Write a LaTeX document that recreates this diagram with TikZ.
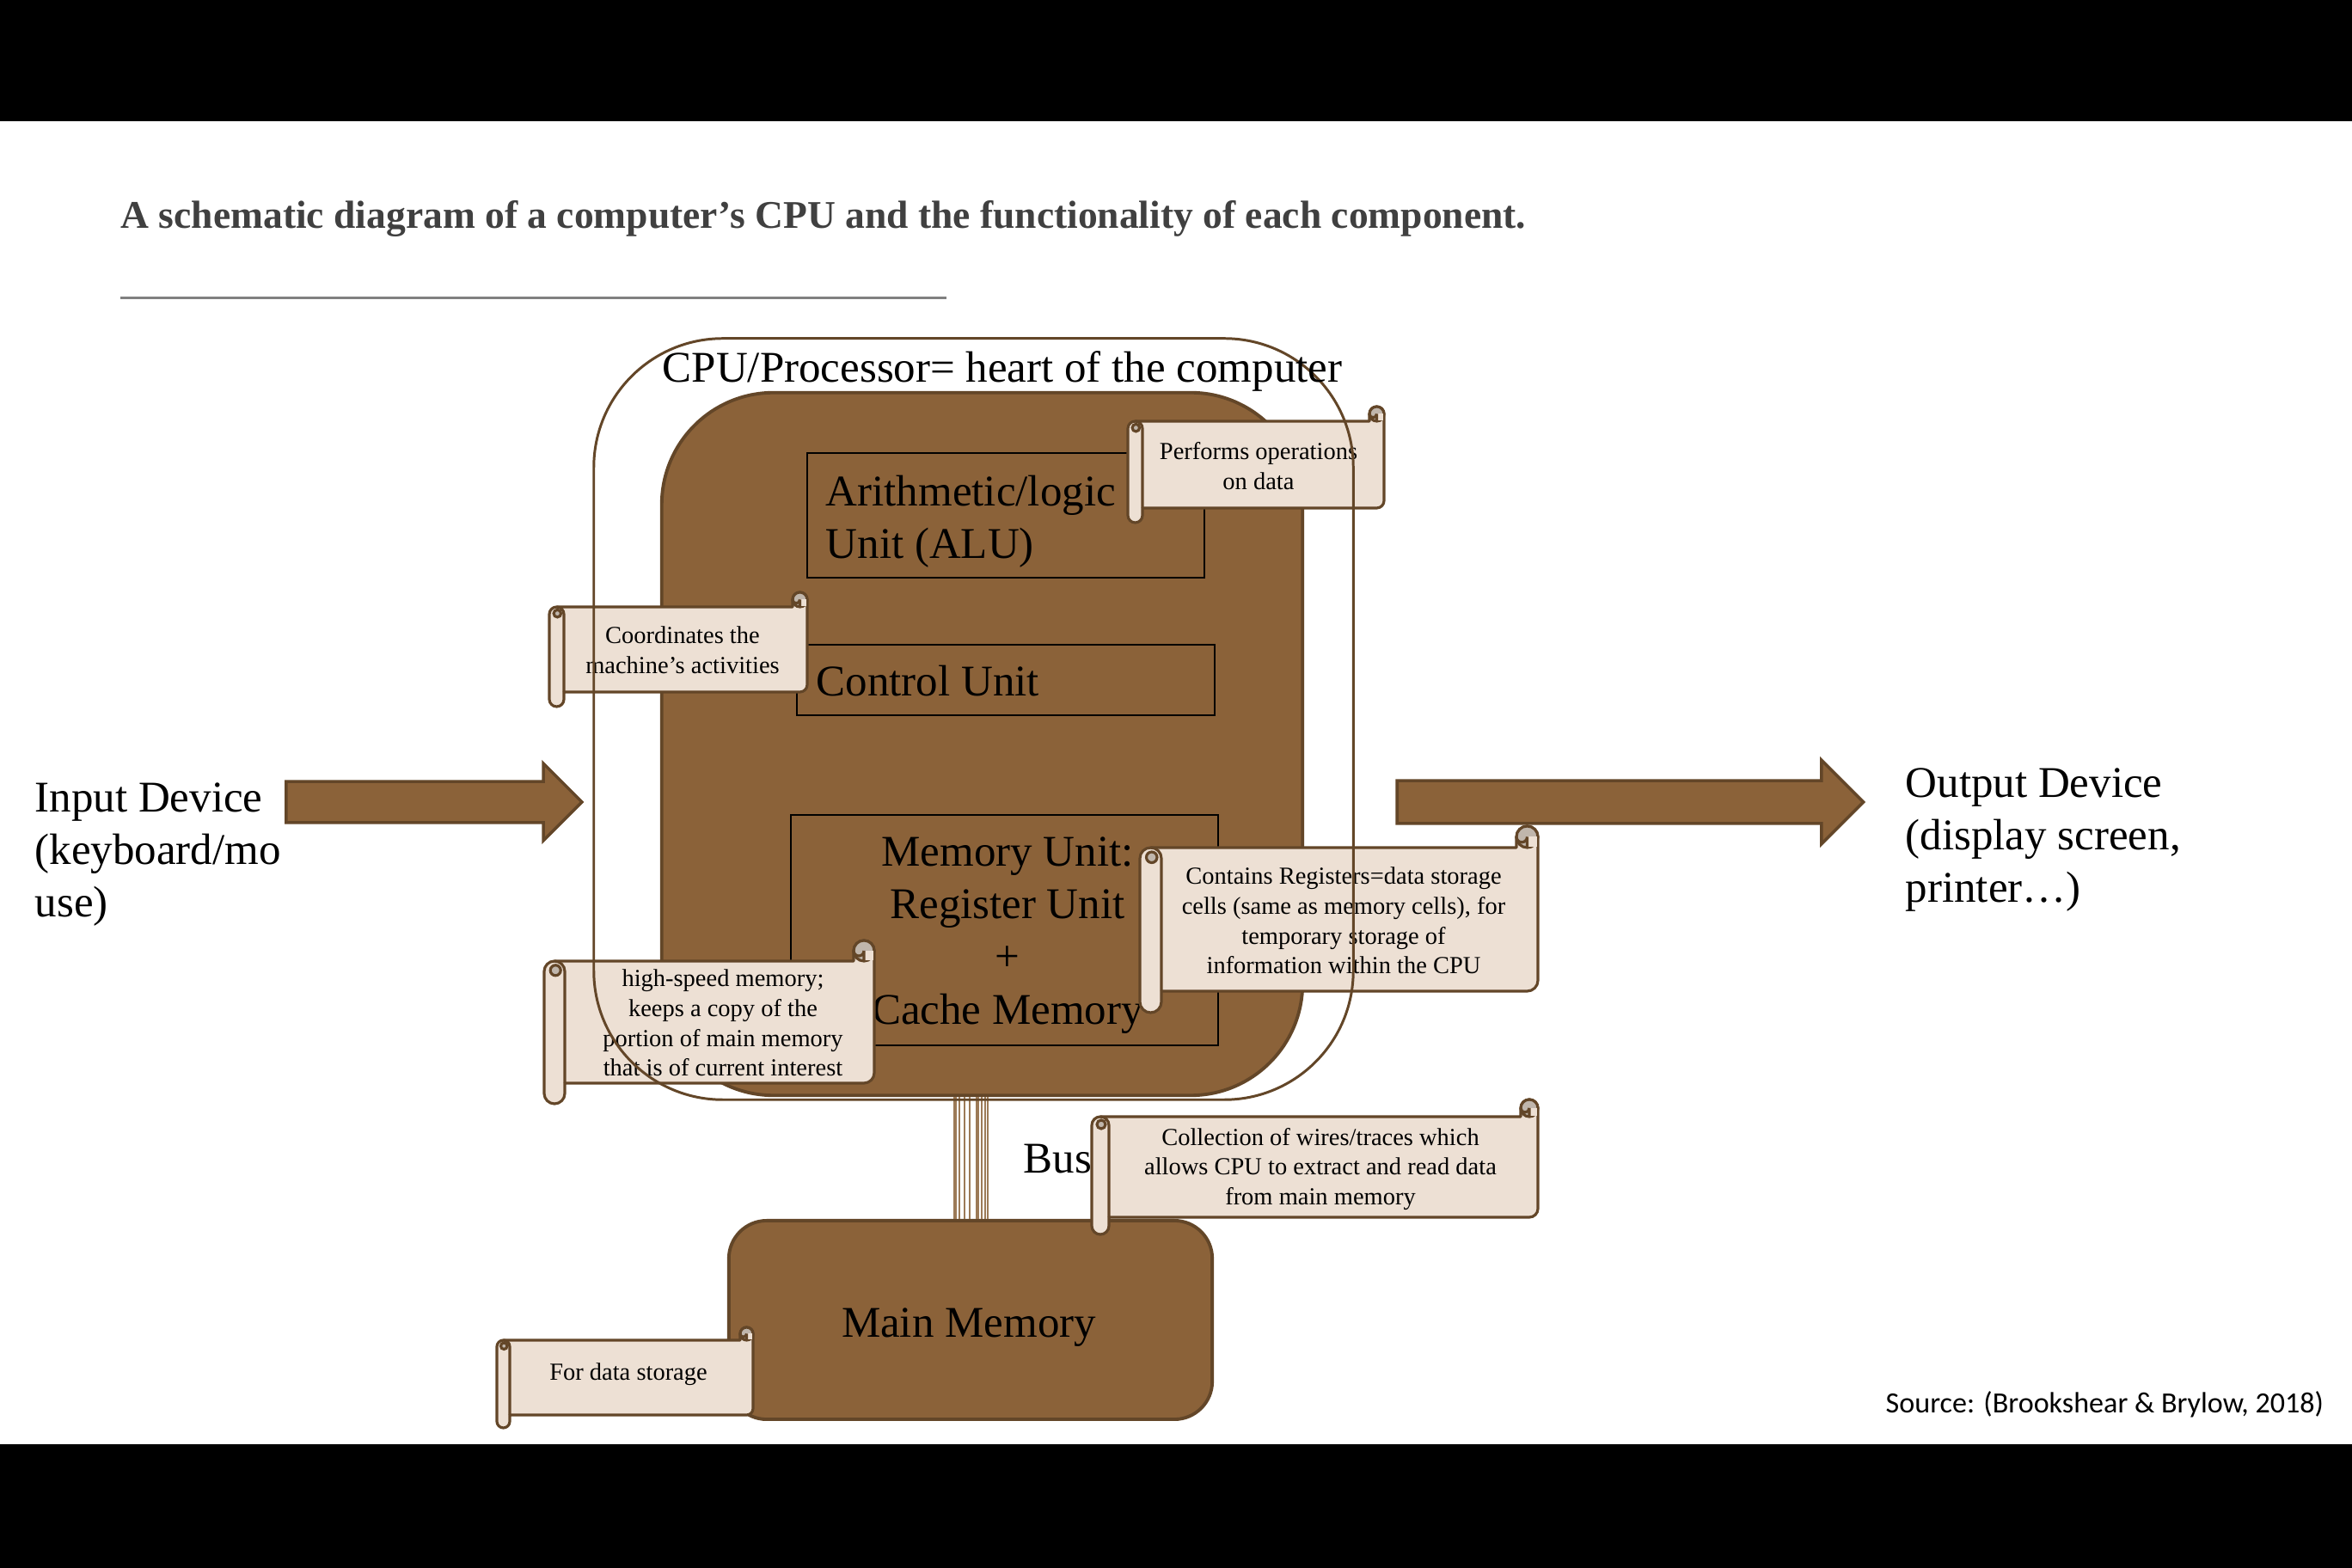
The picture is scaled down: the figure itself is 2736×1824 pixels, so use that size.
\documentclass[tikz,border=0pt]{standalone}
\usepackage{fontspec}
\setmainfont{Liberation Serif}
\newfontfamily\srcfont{Carlito}
\usetikzlibrary{positioning,shapes.arrows}

\definecolor{cpufill}{RGB}{139,98,57}
\definecolor{cpuline}{RGB}{99,70,40}
\definecolor{notefill}{RGB}{237,224,212}
\definecolor{notecurl}{RGB}{192,182,172}
\definecolor{titlegray}{RGB}{64,64,64}

% horizontal scroll: left, top, right, bottom, roll size
\newcommand{\scrollnote}[5]{%
  \pgfmathsetmacro{\sd}{#5}\pgfmathsetmacro{\sh}{#5/2}%
  \path[notebody] (#1,#2-1.5*\sd) arc[start angle=180, end angle=90, radius=\sh]
    -- (#3-\sd,#2-\sd) -- (#3-\sd,#2-\sh) arc[start angle=180, end angle=0, radius=\sh]
    -- (#3,#4+1.5*\sd) arc[start angle=0, end angle=-90, radius=\sh]
    -- (#1+\sd,#4+\sd) -- (#1+\sd,#4+\sh) arc[start angle=0, end angle=-180, radius=\sh]
    -- cycle;
  % left roll
  \draw[noteline] (#1+\sh,#2-\sd) arc[start angle=90, end angle=0, radius=\sh]
    -- (#1+\sd,#4+\sd);
  \path[notecurlfill] (#1+0.55*\sd,#2-1.45*\sd) circle[radius=0.25*\sd];
  % top right curl
  \path[notecurlfill] (#3-\sh,#2-\sh) circle[radius=\sh];
  \fill[notefill] (#3-\sh,#2-\sd+1) rectangle (#3-1,#2-\sh);
  \draw[noteline] (#3-\sh,#2-\sh) -- (#3-\sh,#2-\sd)
    (#3-\sh,#2-\sh) arc[start angle=0, end angle=-180, radius=0.25*\sd];
}

\begin{document}
\begin{tikzpicture}[x=0.01cm, y=0.01cm,
    bigtext/.style={font=\fontsize{14.5}{17.4}\selectfont, inner sep=0pt},
    notetext/.style={font=\fontsize{8.1}{9.9}\selectfont, align=center, inner sep=0pt},
    unitbox/.style={rectangle, draw=black, line width=0.6pt, inner sep=0pt},
    cpubox/.style={rectangle, draw=cpuline, fill=cpufill, line width=1.1pt, inner sep=0pt},
    notebody/.style={fill=notefill, draw=cpuline, line width=0.9pt, line join=round},
    noteline/.style={draw=cpuline, line width=0.9pt},
    notecurlfill/.style={fill=notecurl, draw=cpuline, line width=0.9pt},
    blockarrow/.style={single arrow, fill=cpufill, draw=cpuline, line width=1pt,
        single arrow head indent=0pt, inner xsep=0pt},
    busline/.style={draw=cpufill!85!white, line width=0.5pt}]
    \useasboundingbox (0,0) rectangle (2736,1824);
    \fill[white] (0,0) rectangle (2736,1824);
    % black bands
    \fill[black] (0,1683) rectangle (2736,1824);
    \fill[black] (0,0) rectangle (2736,144);

    % heading
    \node[font=\bfseries\fontsize{12.95}{16}\selectfont, text=titlegray, anchor=base west, inner sep=0pt]
        (title) at (140,1558) {A schematic diagram of a computer’s CPU and the functionality of each component.};
    \draw[black!50, line width=0.85pt] (140,1477) -- (1101,1477);

    % processor core
    \node[cpubox, rounded corners=1.3cm, minimum width=7.45cm, minimum height=8.17cm] (core) at (1142.5,958.5) {};
    \node[unitbox, minimum width=4.62cm, minimum height=1.45cm] (alu) at (1170,1224.5) {};
    \node[bigtext, align=left, anchor=west] (alutext) at (960,1217) {Arithmetic/logic\\Unit (ALU)};
    \node[unitbox, minimum width=4.86cm, minimum height=0.82cm] (ctrl) at (1170,1033) {};
    \node[bigtext, anchor=base west] (ctrltext) at (949,1014) {Control Unit};
    \node[unitbox, minimum width=4.97cm, minimum height=2.68cm] (memunit) at (1168.5,742) {};
    \node[bigtext, align=center] (memtext) at (1172,736) {Memory Unit:\\Register Unit\\+\\Cache Memory};

    % main memory and bus
    \node[cpubox, rounded corners=0.44cm, minimum width=5.62cm, minimum height=2.31cm] (mainmem) at (1129,288.5) {};
    \node[bigtext, anchor=base] (memlabel) at (1127,268) {Main Memory};
    \foreach \bx in {1110,1112,1116,1122,1128,1136,1138,1142,1146,1149}
        \draw[busline] (\bx,0 |- core.south) -- (\bx,0 |- mainmem.north);
    \node[bigtext, anchor=base west] (buslabel) at (1190,459) {Bus};

    % input and output
    \node[blockarrow, minimum height=3.44cm, minimum width=0.86cm, inner ysep=0.22cm,
        single arrow head extend=0.21cm] (inarrow) at (493,891) {};
    \node[blockarrow, minimum height=5.42cm, minimum width=0.94cm, inner ysep=0.23cm,
        single arrow head extend=0.24cm] (outarrow) at (1884,891) {};
    \node[bigtext, align=left, anchor=west] (indev) at (40,830) {Input Device\\(keyboard/mo\\use)};
    \node[bigtext, align=left, anchor=west] (outdev) at (2216,847) {Output Device\\(display screen,\\printer…)};

    % notes
    \scrollnote{1312}{1351}{1610}{1216}{17}
    \node[notetext] (opsnote) at (1464,1282) {Performs operations\\on data};
    \scrollnote{639}{1135}{939}{1002}{17}
    \node[notetext] (ctrlnote) at (794,1068) {Coordinates the\\machine’s activities};
    \scrollnote{633}{730}{1017}{540}{24}
    \node[notetext] (cachenote) at (841,634) {high-speed memory;\\keeps a copy of the\\portion of main memory\\that is of current interest};
    \scrollnote{1326}{863}{1789}{646}{25}
    \node[notetext] (regnote) at (1563,753) {Contains Registers=data storage\\cells (same as memory cells), for\\temporary storage of\\information within the CPU};
    \scrollnote{1270}{545}{1789}{388}{20}
    \node[notetext] (busnote) at (1536,464) {Collection of wires/traces which\\allows CPU to extract and read data\\from main memory};
    \scrollnote{578}{280}{876}{163}{15}
    \node[notetext, anchor=base] (storenote) at (731,218) {For data storage};

    % processor outline
    \node[draw=cpuline, line width=0.85pt, rounded corners=1.5cm, minimum width=8.83cm, minimum height=8.85cm, inner sep=0pt] (cpu) at (1132.5,987.5) {};
    \node[bigtext, anchor=base west] (cputitle) at (770,1379) {CPU/Processor= heart of the computer};

    \node[font=\srcfont\fontsize{9.7}{11.5}\selectfont, anchor=base west, inner sep=0pt]
        (source) at (2193,180) {Source: (Brookshear \& Brylow, 2018)};
\end{tikzpicture}
\end{document}
